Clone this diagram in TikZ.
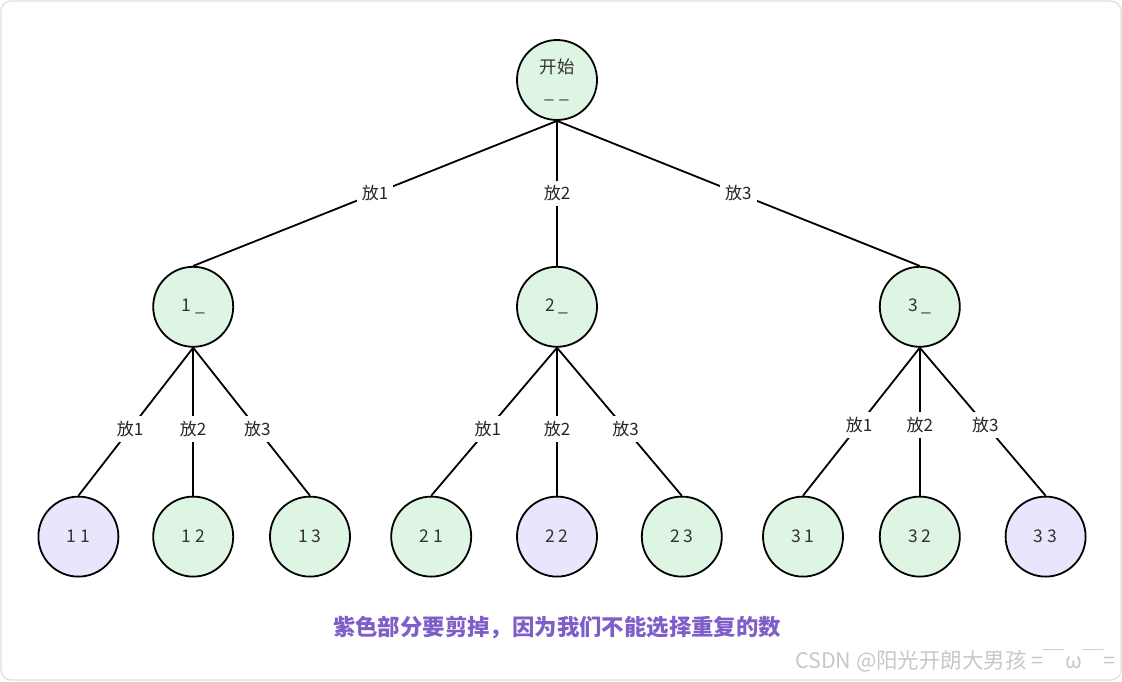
\documentclass[tikz,border=0pt]{standalone}
\usepackage{fontspec}
\usepackage{tikz}
\usetikzlibrary{positioning}
\newfontfamily\cjk{Noto Sans CJK SC}
\definecolor{keepcolor}{RGB}{223, 245, 228}
\definecolor{cutcolor}{RGB}{235, 228, 253}
\definecolor{notecolor}{RGB}{126, 95, 200}
\definecolor{framecolor}{RGB}{222, 222, 226}
\definecolor{markcolor}{RGB}{200, 200, 204}
\tikzstyle{treenode} = [circle, minimum size=80pt, inner sep=0pt, draw=black, line width=1.8pt, fill=keepcolor, text=black!80, align=center, font=\cjk\fontsize{17.5}{32}\selectfont]
\tikzstyle{cutnode} = [treenode, fill=cutcolor]
\tikzstyle{branch} = [line width=1.8pt]
\tikzstyle{choice} = [fill=white, inner sep=5pt, text=black!85, font=\cjk\fontsize{17}{20}\selectfont]

\begin{document}
\begin{tikzpicture}[x=1pt, y=1pt]
    \useasboundingbox (0,0) rectangle (1122,-681);
    % Frame
    \draw[framecolor, line width=1.2pt, rounded corners=10pt] (1,-1) rectangle (1121,-680);

    % Root
    \node[treenode] (root) at (557,-80) {开始\\[-7pt]\_\;\_};

    % Second level
    \node[treenode, below=145pt of root] (n2) {2 \_};
    \node[treenode, left=282pt of n2] (n1) {1 \_};
    \node[treenode, right=281pt of n2] (n3) {3 \_};

    % Leaves under 1_
    \node[treenode, below=148pt of n1] (l12) {1 2};
    \node[cutnode, left=33pt of l12] (l11) {1 1};
    \node[treenode, right=35pt of l12] (l13) {1 3};

    % Leaves under 2_
    \node[cutnode, below=148pt of n2] (l22) {2 2};
    \node[treenode, left=44pt of l22] (l21) {2 1};
    \node[treenode, right=43pt of l22] (l23) {2 3};

    % Leaves under 3_
    \node[treenode, below=148pt of n3] (l32) {3 2};
    \node[treenode, left=35pt of l32] (l31) {3 1};
    \node[cutnode, right=44pt of l32] (l33) {3 3};

    % Branches
    \draw[branch] (root.south) -- node[choice] {放1} (n1.north);
    \draw[branch] (root.south) -- node[choice] {放2} (n2.north);
    \draw[branch] (root.south) -- node[choice] {放3} (n3.north);
    \draw[branch] (n1.south) -- node[choice, pos=0.55] {放1} (l11.north);
    \draw[branch] (n1.south) -- node[choice, pos=0.55] {放2} (l12.north);
    \draw[branch] (n1.south) -- node[choice, pos=0.55] {放3} (l13.north);
    \draw[branch] (n2.south) -- node[choice, pos=0.55] {放1} (l21.north);
    \draw[branch] (n2.south) -- node[choice, pos=0.55] {放2} (l22.north);
    \draw[branch] (n2.south) -- node[choice, pos=0.55] {放3} (l23.north);
    \draw[branch] (n3.south) -- node[choice, pos=0.52] {放1} (l31.north);
    \draw[branch] (n3.south) -- node[choice, pos=0.52] {放2} (l32.north);
    \draw[branch] (n3.south) -- node[choice, pos=0.52] {放3} (l33.north);

    % Note
    \node[text=notecolor, font=\cjk\bfseries\fontsize{22.4}{26}\selectfont] (note) at (557,-628) {紫色部分要剪掉，因为我们不能选择重复的数};
    \node[text=markcolor, font=\cjk\fontsize{21.5}{24}\selectfont, anchor=east] (mark) at (1119,-661) {CSDN @阳光开朗大男孩 =￣ω￣=};
\end{tikzpicture}
\end{document}
